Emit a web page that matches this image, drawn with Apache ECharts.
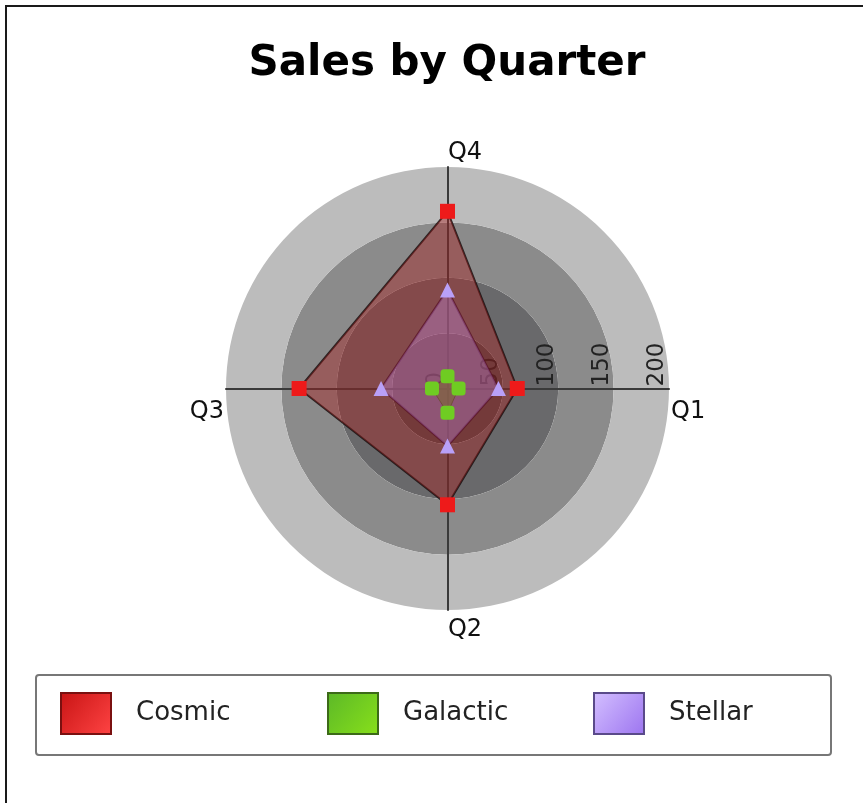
<!DOCTYPE html>
<html>
<head>
<meta charset="utf-8">
<script src="https://cdn.jsdelivr.net/npm/echarts@6/dist/echarts.min.js"></script>
<style>
    html, body { margin: 0; padding: 0; background: #fff; }
    #chart { position: absolute; left: 0; top: 0; width: 863px; height: 803px; }
    #frame {
        position: absolute; left: 5px; top: 5px; width: 900px; height: 796px;
        border-left: 2px solid #1a1a1a; border-top: 2px solid #1a1a1a;
        border-bottom: 1px solid #dcdcdc; pointer-events: none;
    }
</style>
</head>
<body>
<div id="chart"></div>
<div id="frame"></div>
<script>
// values, in Q1..Q4 order
var quarters = ["Q1", "Q2", "Q3", "Q4"];
var cosmic = [63, 105, 134, 160];
var galactic = [10, 22, 14, 11];
var stellar = [46, 52, 60, 89];
var seriesNames = ["Cosmic", "Galactic", "Stellar"];
var axisMax = 200;

// radar goes counter-clockwise from the right: Q1, Q4, Q3, Q2
var order = [0, 3, 2, 1];
function reorder(arr) {
    return order.map(function (i) { return arr[i]; });
}

var font = "DejaVu Sans";

var indicators = order.map(function (i, k) {
    var item = { name: quarters[i], min: 0, max: axisMax };
    if (k > 0) {
        item.axisLabel = { show: false };
    }
    return item;
});

var nameRich = {
    Q1: { fontSize: 24, fontFamily: font, color: "#111", padding: [46, 0, 0, 0] },
    Q2: { fontSize: 24, fontFamily: font, color: "#111", padding: [6, 0, 0, 35] },
    Q3: { fontSize: 24, fontFamily: font, color: "#111", padding: [46, 0, 0, 0] },
    Q4: { fontSize: 24, fontFamily: font, color: "#111", padding: [0, 0, 0, 35] },
};

// one legend per entry so the spacing matches the reference box
var legendLeft = [60, 327, 593];
var legendColors = [
    ["#c81414", "#ff4444", "#7a1010"],
    ["#5cb828", "#88e01a", "#3c6a18"],
    ["#d4c0ff", "#9c74f0", "#5a4a8a"],
];
var legends = seriesNames.map(function (name, i) {
    var c = legendColors[i];
    return {
        left: legendLeft[i],
        top: 692,
        padding: 0,
        itemWidth: 50,
        itemHeight: 41,
        icon: "rect",
        textStyle: {
            fontFamily: font,
            fontSize: 26,
            color: "#222",
            padding: [0, 0, 0, 20],
        },
        data: [{
            name: name,
            itemStyle: {
                color: new echarts.graphic.LinearGradient(0, 0, 1, 1, [
                    { offset: 0, color: c[0] },
                    { offset: 1, color: c[1] },
                ]),
                borderColor: c[2],
                borderWidth: 2,
            },
        }],
    };
});

var chart = echarts.init(document.getElementById("chart"));
chart.setOption({
    backgroundColor: "#fff",
    animation: false,
    title: {
        text: "Sales by Quarter",
        left: 447,
        top: 43,
        padding: 0,
        textAlign: "center",
        textStyle: {
            fontFamily: font,
            fontSize: 42,
            fontWeight: "bold",
            color: "#000",
        },
    },
    // frame of the legend
    graphic: [{
        type: "rect",
        left: 35,
        top: 674,
        shape: { width: 795, height: 80, r: 3 },
        style: { fill: "#fff", stroke: "#777", lineWidth: 2 },
        z: -1,
    }],
    legend: legends,
    radar: {
        center: [447.5, 388.5],
        radius: 221.5,
        startAngle: 0,
        shape: "circle",
        splitNumber: 4,
        nameGap: 2,
        indicator: indicators,
        axisName: {
            fontFamily: font,
            fontSize: 24,
            color: "#111",
            formatter: function (name) {
                return "{" + name + "|" + name + "}";
            },
            rich: nameRich,
        },
        axisLine: {
            show: true,
            lineStyle: { color: "#3a3a3a", width: 2 },
        },
        axisTick: { show: false },
        axisLabel: {
            show: true,
            rotate: 90,
            margin: 2,
            verticalAlign: "bottom",
            fontFamily: font,
            fontSize: 23,
            color: "#222",
            showMinLabel: true,
            showMaxLabel: true,
        },
        splitLine: { show: false },
        splitArea: {
            show: true,
            areaStyle: {
                color: ["#4f4f4f", "#69696b", "#8b8b8b", "#bcbcbc"],
            },
        },
    },
    series: [
        {
            name: "Cosmic",
            type: "radar",
            symbol: "rect",
            symbolSize: 15,
            itemStyle: { color: "#ee1a1a" },
            lineStyle: { color: "rgba(25,15,15,0.85)", width: 2 },
            areaStyle: { color: "rgba(170,30,30,0.42)", opacity: 1 },
            data: [{ name: "Cosmic", value: reorder(cosmic) }],
            z: 2,
        },
        {
            name: "Stellar",
            type: "radar",
            symbol: "triangle",
            symbolSize: 15,
            itemStyle: { color: "#b9a0f8" },
            lineStyle: { color: "rgba(90,20,40,0.8)", width: 2 },
            areaStyle: { color: "rgba(205,150,255,0.3)", opacity: 1 },
            data: [{ name: "Stellar", value: reorder(stellar) }],
            z: 3,
        },
        {
            name: "Galactic",
            type: "radar",
            symbol: "roundRect",
            symbolSize: 14,
            itemStyle: { color: "#6fcc22" },
            lineStyle: { color: "rgba(90,60,30,0.6)", width: 1 },
            areaStyle: { color: "rgba(120,110,30,0.45)", opacity: 1 },
            data: [{ name: "Galactic", value: reorder(galactic) }],
            z: 4,
        },
    ],
});
</script>
</body>
</html>
